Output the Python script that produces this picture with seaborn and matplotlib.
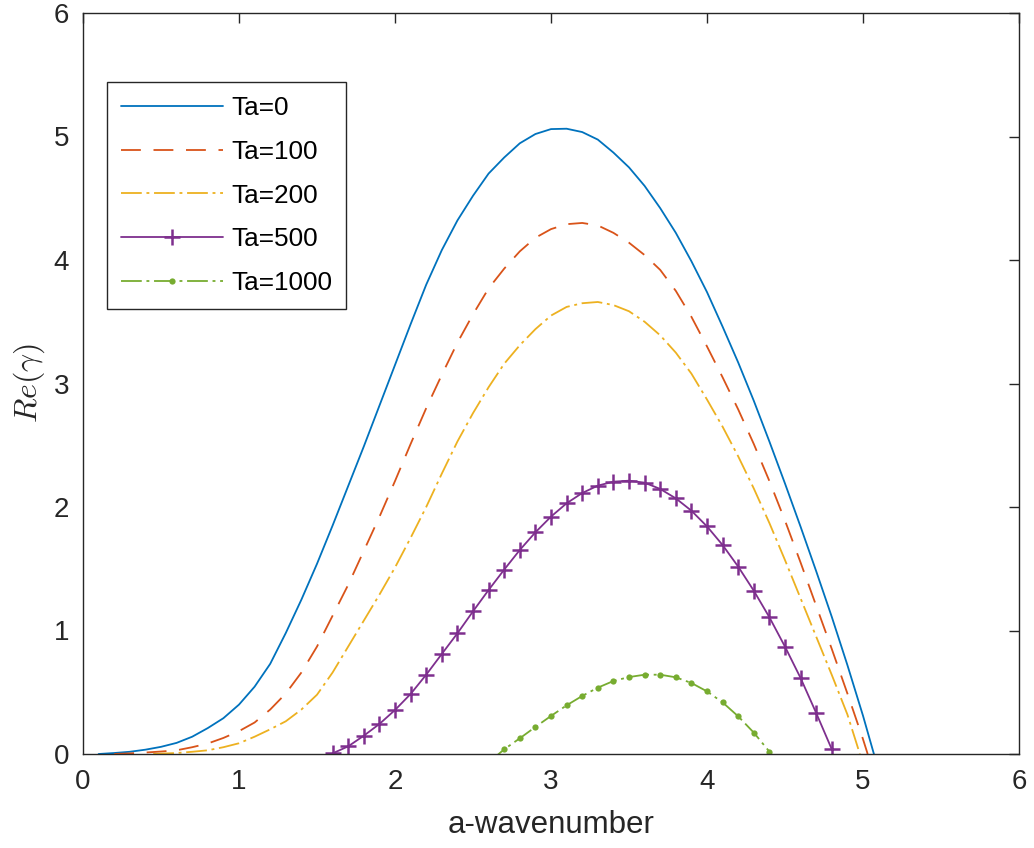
import numpy as np
import pandas as pd
import matplotlib
matplotlib.use("Agg")
import matplotlib.pyplot as plt
import seaborn as sns

# ---------------- data ----------------
x_ta0 = [0.1, 0.2, 0.3, 0.4, 0.5, 0.6, 0.7, 0.8, 0.9, 1.0, 1.1, 1.2, 1.3, 1.4, 1.5,
         1.6, 1.7, 1.8, 1.9, 2.0, 2.1, 2.2, 2.3, 2.4, 2.5, 2.6, 2.7, 2.8, 2.9, 3.0,
         3.1, 3.2, 3.3, 3.4, 3.5, 3.6, 3.7, 3.8, 3.9, 4.0, 4.1, 4.2, 4.3, 4.4, 4.5,
         4.6, 4.7, 4.8, 4.9, 5.0, 5.07]
y_ta0 = [0.0, 0.008, 0.018, 0.035, 0.058, 0.09, 0.14, 0.21, 0.29, 0.40, 0.545, 0.73, 0.98, 1.25, 1.54,
         1.85, 2.17, 2.49, 2.82, 3.15, 3.48, 3.80, 4.08, 4.32, 4.52, 4.70, 4.83, 4.945, 5.02, 5.06,
         5.063, 5.036, 4.975, 4.87, 4.75, 4.60, 4.42, 4.22, 3.99, 3.74, 3.46, 3.17, 2.86, 2.53, 2.19,
         1.84, 1.48, 1.11, 0.72, 0.31, 0.0]

x_ta100 = [0.2, 0.3, 0.4, 0.5, 0.6, 0.7, 0.8, 0.9, 1.0, 1.1, 1.2, 1.3, 1.4, 1.5, 1.6,
           1.7, 1.8, 1.9, 2.0, 2.1, 2.2, 2.3, 2.4, 2.5, 2.6, 2.7, 2.8, 2.9, 3.0, 3.1,
           3.2, 3.3, 3.4, 3.5, 3.6, 3.7, 3.8, 3.9, 4.0, 4.1, 4.2, 4.3, 4.4, 4.5, 4.6,
           4.7, 4.8, 4.9, 5.0, 5.03]
y_ta100 = [0.0, 0.005, 0.012, 0.02, 0.03, 0.055, 0.085, 0.13, 0.185, 0.255, 0.36, 0.49, 0.66, 0.87, 1.12,
           1.37, 1.645, 1.92, 2.21, 2.51, 2.80, 3.07, 3.33, 3.56, 3.77, 3.93, 4.07, 4.18, 4.25, 4.29,
           4.30, 4.28, 4.22, 4.14, 4.04, 3.92, 3.75, 3.54, 3.30, 3.05, 2.79, 2.51, 2.21, 1.89, 1.55,
           1.20, 0.85, 0.49, 0.12, 0.0]

x_ta200 = [0.45, 0.5, 0.6, 0.7, 0.8, 0.9, 1.0, 1.1, 1.2, 1.3, 1.4, 1.5, 1.6, 1.7, 1.8,
           1.9, 2.0, 2.1, 2.2, 2.3, 2.4, 2.5, 2.6, 2.7, 2.8, 2.9, 3.0, 3.1, 3.2, 3.3,
           3.4, 3.5, 3.6, 3.7, 3.8, 3.9, 4.0, 4.1, 4.2, 4.3, 4.4, 4.5, 4.6, 4.7, 4.8,
           4.9, 4.98]
y_ta200 = [0.0, 0.003, 0.008, 0.018, 0.03, 0.055, 0.087, 0.14, 0.20, 0.265, 0.36, 0.48, 0.66, 0.87, 1.08,
           1.29, 1.51, 1.75, 2.00, 2.27, 2.53, 2.76, 2.97, 3.16, 3.31, 3.44, 3.55, 3.62, 3.65, 3.66,
           3.635, 3.585, 3.50, 3.39, 3.25, 3.08, 2.87, 2.65, 2.41, 2.15, 1.87, 1.57, 1.26, 0.95, 0.64,
           0.32, 0.0]

x_ta500 = [1.6, 1.7, 1.8, 1.9, 2.0, 2.1, 2.2, 2.3, 2.4, 2.5, 2.6, 2.7, 2.8, 2.9, 3.0,
           3.1, 3.2, 3.3, 3.4, 3.5, 3.6, 3.7, 3.8, 3.9, 4.0, 4.1, 4.2, 4.3, 4.4, 4.5,
           4.6, 4.7, 4.8]
y_ta500 = [0.005, 0.062, 0.148, 0.243, 0.356, 0.486, 0.642, 0.810, 0.977, 1.155, 1.328, 1.493, 1.652, 1.795, 1.922,
           2.03, 2.113, 2.173, 2.205, 2.213, 2.197, 2.146, 2.07, 1.97, 1.843, 1.692, 1.517, 1.322, 1.107, 0.869,
           0.615, 0.332, 0.038]

x_ta1000 = [2.6, 2.7, 2.8, 2.9, 3.0, 3.1, 3.2, 3.3, 3.4, 3.5, 3.6, 3.7, 3.8, 3.9, 4.0,
            4.1, 4.2, 4.3, 4.4]
y_ta1000 = [-0.07, 0.038, 0.127, 0.219, 0.308, 0.394, 0.470, 0.537, 0.591, 0.623, 0.642, 0.642, 0.621, 0.575, 0.507,
            0.418, 0.305, 0.173, 0.019]

labels = ["Ta=0", "Ta=100", "Ta=200", "Ta=500", "Ta=1000"]
colors = ["#0072BD", "#D95319", "#EDB120", "#7E2F8E", "#77AC30"]
x_ticks = [0, 1, 2, 3, 4, 5, 6]
y_ticks = [0, 1, 2, 3, 4, 5, 6]
x_label = "a-wavenumber"
y_label = r"$Re(\gamma)$"

# ---------------- style ----------------
sns.set_style("white")
plt.rcParams["font.family"] = ["Liberation Sans", "DejaVu Sans"]
plt.rcParams["mathtext.fontset"] = "cm"

axis_col = "#262626"

fig = plt.figure(figsize=(10.34, 8.48), dpi=100)
ax = fig.add_axes([83 / 1034, 1 - 754 / 848, (1019 - 83) / 1034, (754 - 13) / 848])

lw = 1.3
dashdot = (0, (11.5, 2.6, 1.6, 2.6))
series = [
    (x_ta0, y_ta0, dict(linestyle="-")),
    (x_ta100, y_ta100, dict(linestyle=(0, (11, 7)))),
    (x_ta200, y_ta200, dict(linestyle=dashdot)),
    (x_ta500, y_ta500, dict(linestyle="-", marker="+", markersize=11.5, markeredgewidth=1.8)),
    (x_ta1000, y_ta1000, dict(linestyle=dashdot, marker="o", markersize=4.5,
                              markeredgewidth=0)),
]
for (xs, ys, kw), lab, col in zip(series, labels, colors):
    df = pd.DataFrame({"a": xs, "g": ys})
    sns.lineplot(data=df, x="a", y="g", ax=ax, color=col, linewidth=lw, label=lab,
                 sort=False, estimator=None, markeredgecolor=col, markerfacecolor=col, **kw)

ax.set_xlim(0, 6)
ax.set_ylim(0, 6)
ax.set_xticks(x_ticks)
ax.set_yticks(y_ticks)
ax.set_xticklabels([str(t) for t in x_ticks])
ax.set_yticklabels([str(t) for t in y_ticks])

for s in ax.spines.values():
    s.set_visible(True)
    s.set_color(axis_col)
    s.set_linewidth(1.0)

ax.tick_params(axis="both", which="major", direction="in", length=7, width=1.0,
               color=axis_col, labelcolor=axis_col, labelsize=20,
               top=True, right=True)
ax.tick_params(axis="x", pad=11)
ax.tick_params(axis="y", pad=10)

ax.set_xlabel(x_label, fontsize=22.5, color=axis_col)
ax.set_ylabel(y_label, fontsize=23, color=axis_col)
ax.xaxis.set_label_coords(0.5, (754 - 810) / 741)
ax.yaxis.set_label_coords((47 - 83) / 936, 0.5)

leg = ax.legend(loc="upper left", bbox_to_anchor=((107 - 83) / 936, (754 - 82) / 741),
                borderaxespad=0, fontsize=18.8, frameon=True, fancybox=False,
                edgecolor=axis_col, framealpha=1, handlelength=3.9, handletextpad=0.3,
                labelspacing=0.75, borderpad=0.55, numpoints=1)
leg.get_frame().set_linewidth(1.0)
for t in leg.get_texts():
    t.set_color("black")

fig.savefig("out.png", dpi=100)
